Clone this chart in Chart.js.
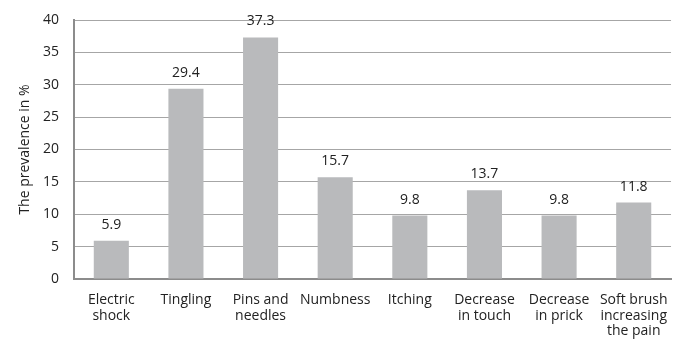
<!DOCTYPE html>
<html>
<head>
<meta charset="utf-8">
<script src="https://cdn.jsdelivr.net/npm/chart.js@4"></script>
<style>
  html, body { margin: 0; padding: 0; background: #fff; }
  #wrap { width: 681px; height: 345px; }
</style>
</head>
<body>
<div id="wrap"><canvas id="chart"></canvas></div>
<script>
const categories = [
    ['Electric', 'shock'],
    'Tingling',
    ['Pins and', 'needles'],
    'Numbness',
    'Itching',
    ['Decrease', 'in touch'],
    ['Decrease', 'in prick'],
    ['Soft brush', 'increasing', 'the pain']
];
const prevalence = [5.9, 29.4, 37.3, 15.7, 9.8, 13.7, 9.8, 11.8];
const yTicks = [0, 5, 10, 15, 20, 25, 30, 35, 40];

const FONT = '"Open Sans", "Noto Sans", sans-serif';

// value labels above each bar
const barLabels = {
    id: 'barLabels',
    afterDatasetsDraw(chart) {
        const ctx = chart.ctx;
        const meta = chart.getDatasetMeta(0);
        ctx.save();
        ctx.font = '14px ' + FONT;
        ctx.fillStyle = '#222';
        ctx.textAlign = 'center';
        ctx.textBaseline = 'middle';
        meta.data.forEach((bar, i) => {
            ctx.fillText(prevalence[i].toFixed(1), bar.x, bar.y - 16);
        });
        ctx.restore();
    }
};

new Chart(document.getElementById('chart'), {
    type: 'bar',
    data: {
        labels: categories,
        datasets: [{
            data: prevalence,
            backgroundColor: '#b9babc',
            borderWidth: 0,
            barPercentage: 0.47,
            categoryPercentage: 1.0
        }]
    },
    options: {
        responsive: true,
        maintainAspectRatio: false,
        animation: false,
        layout: { padding: { top: 20, right: 8, left: 0, bottom: 0 } },
        plugins: {
            legend: { display: false },
            tooltip: { enabled: false }
        },
        scales: {
            y: {
                min: 0,
                max: 40,
                afterBuildTicks: axis => { axis.ticks = yTicks.map(v => ({ value: v })); },
                afterFit: axis => {
                    axis.width = 74;
                    axis.paddingTop = 0;
                    axis.paddingBottom = 0;
                },
                grid: { color: '#a6a6a6', lineWidth: 1, drawTicks: false },
                border: { color: '#8c8c8c', width: 2 },
                ticks: {
                    color: '#222',
                    padding: 15,
                    font: { family: FONT, size: 14 }
                },
                title: {
                    display: true,
                    text: 'The prevalence in %',
                    color: '#222',
                    padding: { top: 17, bottom: 0 },
                    font: { family: FONT, size: 14 }
                }
            },
            x: {
                afterFit: axis => { axis.height = 66; },
                grid: { display: false, drawTicks: false },
                border: { color: '#8c8c8c', width: 2 },
                ticks: {
                    color: '#222',
                    padding: 13,
                    maxRotation: 0,
                    autoSkip: false,
                    font: { family: FONT, size: 14, lineHeight: 1.12 }
                }
            }
        }
    },
    plugins: [barLabels]
});
</script>
</body>
</html>
